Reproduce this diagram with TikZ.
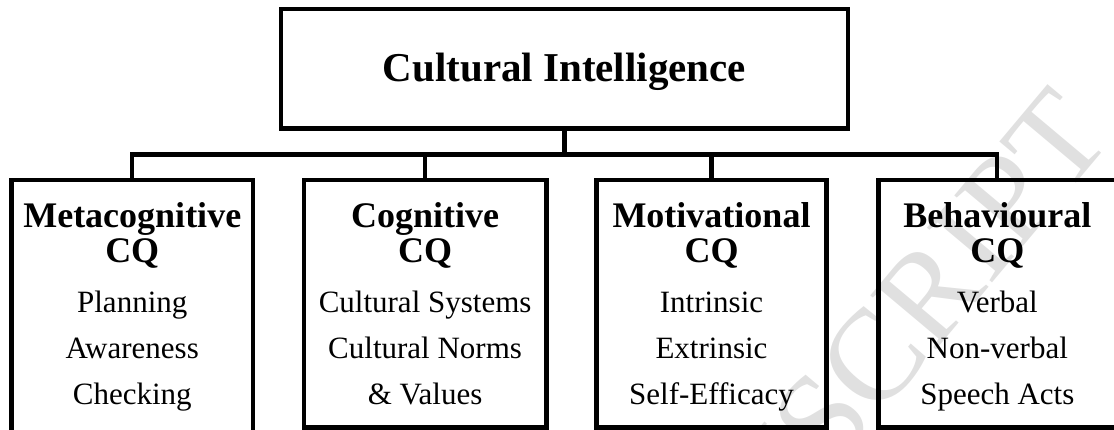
\documentclass[tikz,border=0pt]{standalone}
\usepackage{fontspec}
\setmainfont{Liberation Serif}
\begin{document}
\begin{tikzpicture}[x=1pt,y=-1pt,
  box/.style={draw=black, line width=4.6pt, rectangle, inner sep=0pt, outer sep=0pt},
  link/.style={draw=black, line width=4.3pt, line join=miter},
  titletext/.style={anchor=base, inner sep=0pt, font=\fontsize{41}{49}\selectfont\bfseries},
  headtext/.style={anchor=base, inner sep=0pt, font=\fontsize{36}{40}\selectfont\bfseries},
  bodytext/.style={anchor=base, inner sep=0pt, font=\fontsize{31}{36}\selectfont},
  wmark/.style={anchor=base east, inner sep=0pt, text=black!12, rotate=50, font=\fontsize{130}{130}\selectfont}]
\useasboundingbox (0,0) rectangle (1114,430);
\clip (0,0) rectangle (1114,430);
% watermark
\node[wmark] (wm) at (1115,137) {ACCEPTED MANUSCRIPT};
% boxes
\node[box, minimum width=567pt, minimum height=119.3pt] (top) at (564.4,68.8) {};
\node[box, minimum width=241.5pt, minimum height=270pt] (b1) at (132.25,315) {};
\node[box, minimum width=242.2pt, minimum height=247.5pt] (b2) at (425.1,303.75) {};
\node[box, minimum width=230.4pt, minimum height=247.5pt] (b3) at (711.5,303.75) {};
\node[box, minimum width=238pt, minimum height=247.5pt] (b4) at (997.3,303.75) {};
% connectors
\coordinate (bar) at (565,154.5);
\draw[link] (top.south) -- (top.south |- bar);
\draw[link] (b1.north) -- (b1.north |- bar) -- (b4.north |- bar) -- (b4.north);
\draw[link] (b2.north) -- (b2.north |- bar);
\draw[link] (b3.north) -- (b3.north |- bar);
% texts
\node[titletext] (tt) at (564.4,82) {Cultural Intelligence};
\node[headtext] (h1a) at (132.25,228) {Metacognitive};
\node[headtext] (h1b) at (132.25,263) {CQ};
\node[bodytext] (p1a) at (132.25,313) {Planning};
\node[bodytext] (p1b) at (132.25,358.5) {Awareness};
\node[bodytext] (p1c) at (132.25,404) {Checking};
\node[headtext] (h2a) at (425.1,228) {Cognitive};
\node[headtext] (h2b) at (425.1,263) {CQ};
\node[bodytext] (p2a) at (425.1,313) {Cultural Systems};
\node[bodytext] (p2b) at (425.1,358.5) {Cultural Norms};
\node[bodytext] (p2c) at (425.1,404) {\& Values};
\node[headtext] (h3a) at (711.5,228) {Motivational};
\node[headtext] (h3b) at (711.5,263) {CQ};
\node[bodytext] (p3a) at (711.5,313) {Intrinsic};
\node[bodytext] (p3b) at (711.5,358.5) {Extrinsic};
\node[bodytext] (p3c) at (711.5,404) {Self-Efficacy};
\node[headtext] (h4a) at (997.3,228) {Behavioural};
\node[headtext] (h4b) at (997.3,263) {CQ};
\node[bodytext] (p4a) at (997.3,313) {Verbal};
\node[bodytext] (p4b) at (997.3,358.5) {Non-verbal};
\node[bodytext] (p4c) at (997.3,404) {Speech Acts};
\end{tikzpicture}
\end{document}
